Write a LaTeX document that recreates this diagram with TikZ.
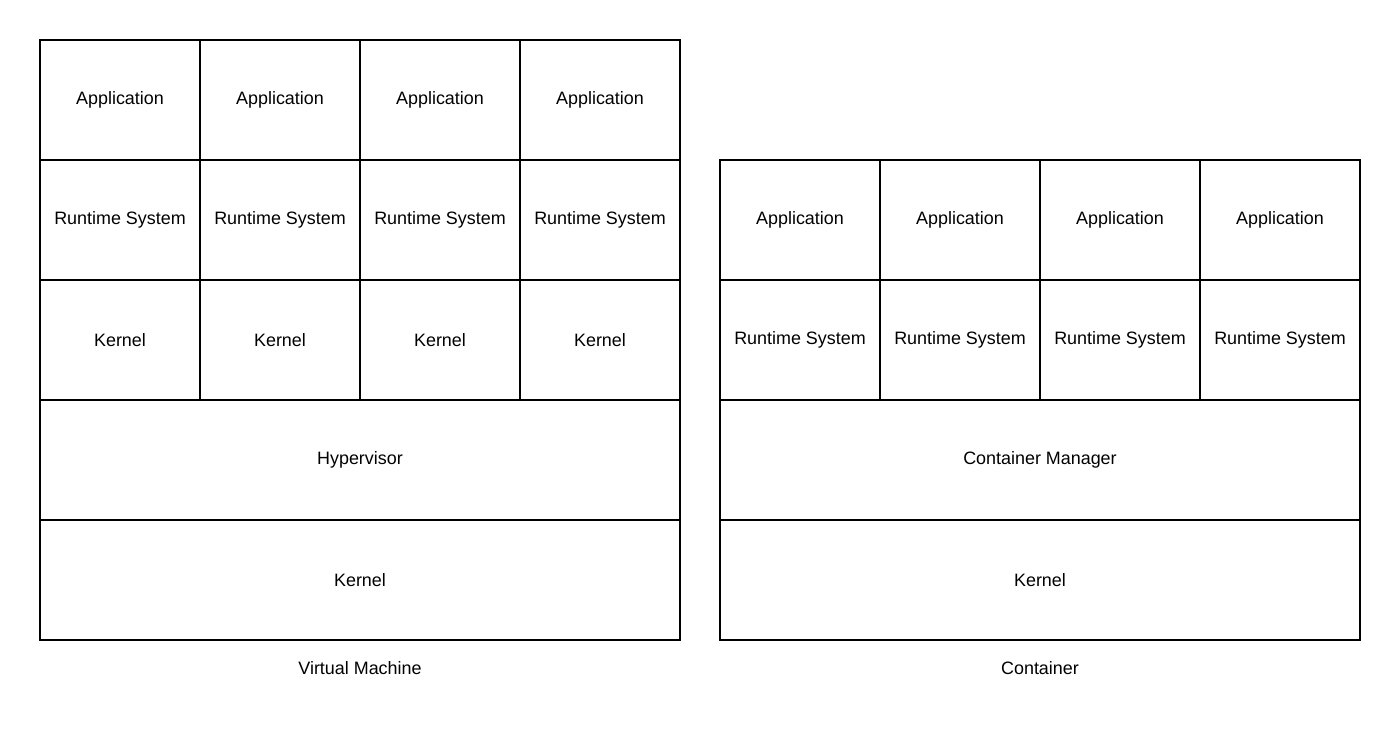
\documentclass[tikz,border=0pt]{standalone}
\usepackage{fontspec}
\setmainfont{Liberation Sans}
\usetikzlibrary{positioning}
\tikzset{
	cell/.style={
		draw,
		rectangle,
		line width=1.1pt,
		inner sep=0mm,
		outer sep=0mm,
		minimum width=3.2cm,
		minimum height=2.4cm,
		font=\fontsize{10.2}{12}\selectfont
	},
	wide/.style={cell, minimum width=12.8cm},
	caption/.style={font=\fontsize{10.2}{12}\selectfont}
}

\begin{document}
\begin{tikzpicture}[x=0.02cm, y=-0.02cm]

	% Fix the canvas
	\useasboundingbox (0,0) rectangle (1400,740);

	% Virtual machine stack
	\foreach \i in {0,...,3} {
		\node[cell] (vmapp\i) at (120+160*\i,100) {Application};
		\node[cell, below=0mm of vmapp\i] (vmrt\i) {Runtime System};
		\node[cell, below=0mm of vmrt\i] (vmk\i) {Kernel};
	}
	\node[wide, below=0mm of vmk1.south east] (hyp) {Hypervisor};
	\node[wide, below=0mm of hyp] (vmkern) {Kernel};
	\node[caption, below=3mm of vmkern] (vmlabel) {Virtual Machine};

	% Container stack
	\foreach \i in {0,...,3} {
		\node[cell] (capp\i) at (800+160*\i,220) {Application};
		\node[cell, below=0mm of capp\i] (crt\i) {Runtime System};
	}
	\node[wide, below=0mm of crt1.south east] (cm) {Container Manager};
	\node[wide, below=0mm of cm] (ckern) {Kernel};
	\node[caption, below=3mm of ckern] (clabel) {Container};

\end{tikzpicture}
\end{document}
